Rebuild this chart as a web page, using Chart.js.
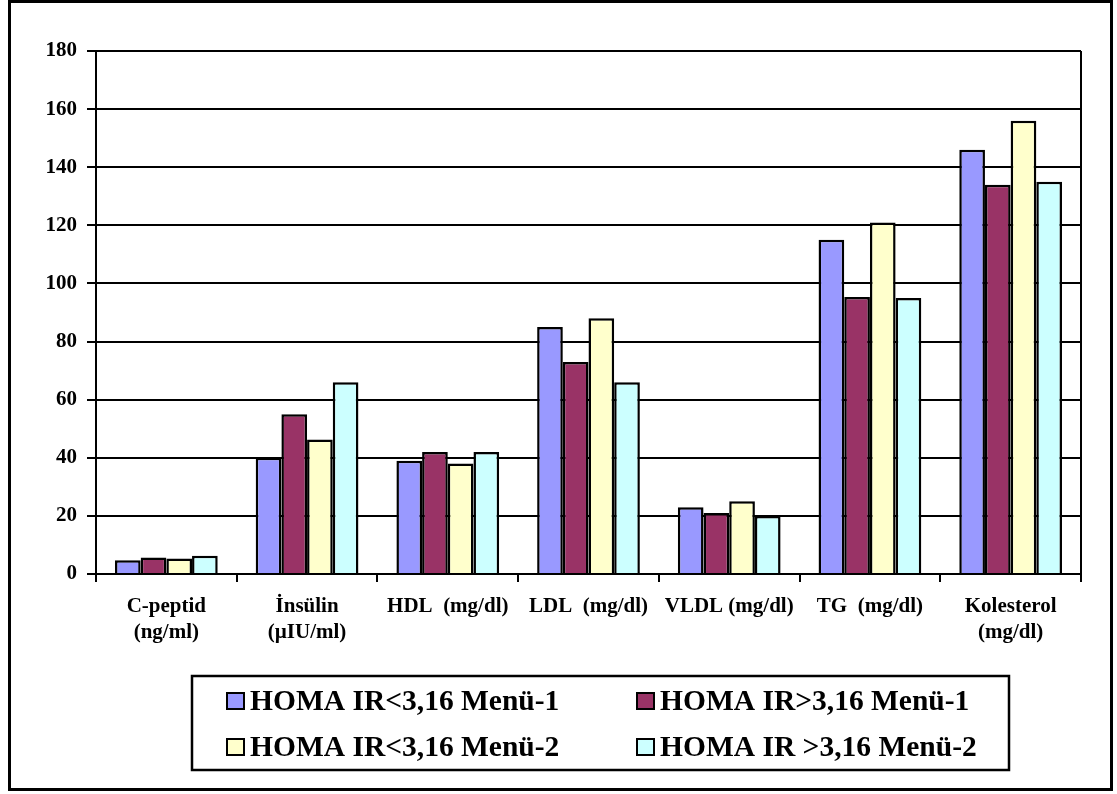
<!DOCTYPE html>
<html>
<head>
<meta charset="utf-8">
<script src="https://cdn.jsdelivr.net/npm/chart.js@4/dist/chart.umd.min.js"></script>
<style>
  html, body { margin: 0; padding: 0; background: #fff; }
  #wrap { width: 1117px; height: 794px; }
</style>
</head>
<body>
<div id="wrap"><canvas id="c" width="1117" height="794"></canvas></div>
<script>
// Categories (two-line labels are given as arrays)
const categories = [
  ['C-peptid', '(ng/ml)'],
  ['İnsülin', '(µIU/ml)'],
  'HDL  (mg/dl)',
  'LDL  (mg/dl)',
  'VLDL (mg/dl)',
  'TG  (mg/dl)',
  ['Kolesterol', '(mg/dl)']
];

const seriesNames = [
  'HOMA IR<3,16 Menü-1',
  'HOMA IR>3,16 Menü-1',
  'HOMA IR<3,16 Menü-2',
  'HOMA IR >3,16 Menü-2'
];

const lowMenu1  = [4.7, 40, 39, 85, 23, 115, 146];
const highMenu1 = [5.7, 55, 42, 73, 21, 95.3, 134];
const lowMenu2  = [5.3, 46.3, 38, 88, 25, 121, 156];
const highMenu2 = [6.3, 66, 42, 66, 20, 95, 135];

const yTicks = [0, 20, 40, 60, 80, 100, 120, 140, 160, 180];

const seriesColors = ['#9999FF', '#993366', '#FFFFCC', '#CCFFFF'];
const seriesValues = [lowMenu1, highMenu1, lowMenu2, highMenu2];

const serif = "'Liberation Serif', 'Times New Roman', serif";

// Outer frame, right edge of the plot and boxed two-column legend
const framePlugin = {
  id: 'frameAndLegend',
  afterDraw(chart) {
    const ctx = chart.ctx;
    const area = chart.chartArea;
    ctx.save();
    // plot right edge
    ctx.strokeStyle = '#000';
    ctx.lineWidth = 2;
    ctx.beginPath();
    ctx.moveTo(area.right, area.top);
    ctx.lineTo(area.right, area.bottom);
    ctx.stroke();

    // outer frame
    ctx.lineWidth = 3;
    ctx.strokeRect(9.5, 1.5, 1102, 788);

    // legend box
    ctx.lineWidth = 2.5;
    ctx.strokeRect(192, 676, 817, 94);

    const cols = [227, 637];
    const rows = [701, 747];
    ctx.font = 'bold 29.5px ' + serif;
    ctx.textBaseline = 'middle';
    ctx.textAlign = 'left';
    chart.data.datasets.forEach((ds, i) => {
      const x = cols[i % 2];
      const y = rows[Math.floor(i / 2)];
      ctx.fillStyle = ds.backgroundColor;
      ctx.fillRect(x, y - 8, 17, 16);
      ctx.lineWidth = 2;
      ctx.strokeStyle = '#000';
      ctx.strokeRect(x, y - 8, 17, 16);
      ctx.fillStyle = '#000';
      ctx.fillText(ds.label, x + 23, y + 1);
    });
    ctx.restore();
  }
};

new Chart(document.getElementById('c'), {
  type: 'bar',
  data: {
    labels: categories,
    datasets: seriesNames.map((name, i) => ({
      label: name,
      data: seriesValues[i],
      backgroundColor: seriesColors[i],
      borderColor: '#000',
      borderWidth: 2.5,
      barPercentage: 1,
      categoryPercentage: 0.73
    }))
  },
  options: {
    responsive: false,
    animation: false,
    layout: { padding: { top: 51, right: 36, left: 0, bottom: 0 } },
    plugins: {
      legend: { display: false },
      tooltip: { enabled: false }
    },
    scales: {
      x: {
        afterFit(scale) { scale.height = 220; },
        grid: {
          drawOnChartArea: false,
          drawTicks: true,
          tickLength: 8,
          color: '#000',
          lineWidth: 2
        },
        border: { display: true, color: '#000', width: 2 },
        ticks: {
          color: '#000',
          maxRotation: 0,
          autoSkip: false,
          padding: 12,
          font: { family: serif, size: 21, weight: 'bold', lineHeight: 1.22 }
        }
      },
      y: {
        min: 0,
        max: 180,
        afterFit(scale) { scale.width = 96; },
        afterBuildTicks(scale) { scale.ticks = yTicks.map(v => ({ value: v })); },
        grid: {
          color: '#000',
          lineWidth: 2,
          drawTicks: true,
          tickLength: 9
        },
        border: { display: true, color: '#000', width: 2 },
        ticks: {
          color: '#000',
          padding: 10,
          font: { family: serif, size: 21, weight: 'bold' }
        }
      }
    }
  },
  plugins: [framePlugin]
});
</script>
</body>
</html>
